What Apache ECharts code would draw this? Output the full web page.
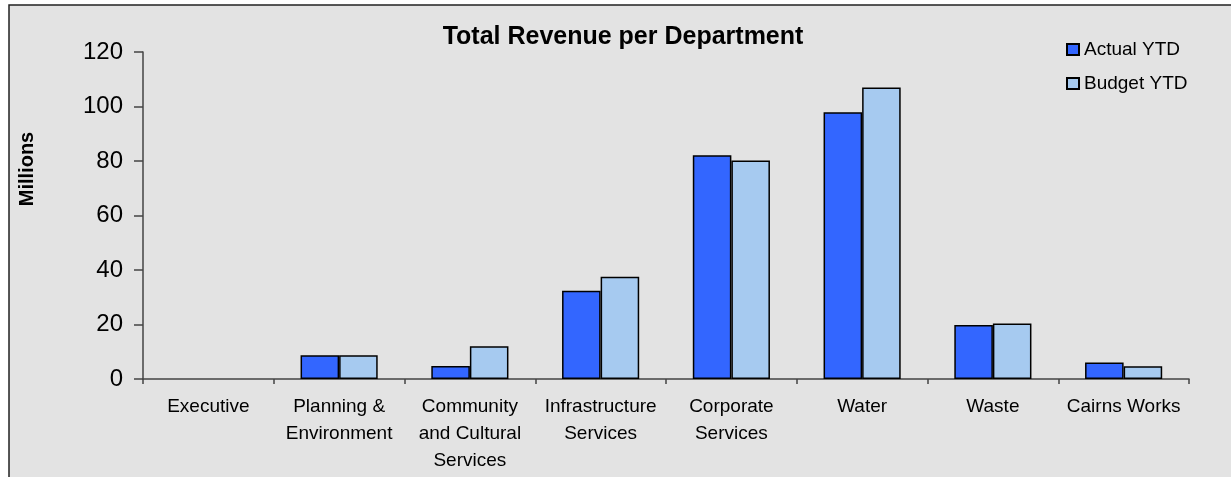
<!DOCTYPE html>
<html>
<head>
<meta charset="utf-8">
<script src="https://cdn.jsdelivr.net/npm/echarts@6/dist/echarts.min.js"></script>
<style>
  html, body { margin: 0; padding: 0; background: #ffffff; }
  #chart { width: 1231px; height: 477px; }
</style>
</head>
<body>
<div id="chart"></div>
<script>
// Departments along the x axis
const departments = [
  'Executive',
  'Planning &\nEnvironment',
  'Community\nand Cultural\nServices',
  'Infrastructure\nServices',
  'Corporate\nServices',
  'Water',
  'Waste',
  'Cairns Works'
];

// Revenue in millions
const actualYTD = [0, 8.7, 4.8, 32.4, 82.1, 97.9, 19.8, 6.1];
const budgetYTD = [0, 8.7, 12.0, 37.5, 80.2, 107.0, 20.4, 4.7];

const seriesNames = ['Actual YTD', 'Budget YTD'];
const yTicks = { min: 0, max: 120, interval: 20 };

const FONT = '"Liberation Sans", Arial, sans-serif';

// Zero-valued bars get no outline so they don't leave a stub on the axis
function barData(values) {
  return values.map(v => v === 0 ? { value: v, itemStyle: { borderWidth: 0 } } : v);
}

const chart = echarts.init(document.getElementById('chart'), null, { renderer: 'canvas' });

chart.setOption({
  animation: false,
  backgroundColor: '#ffffff',
  graphic: [
    {
      type: 'rect',
      z: -10,
      shape: { x: 9, y: 5, width: 1240, height: 490 },
      style: { fill: '#e3e3e3', stroke: '#222222', lineWidth: 1.5 }
    },
    {
      type: 'text',
      x: 27,
      y: 169,
      rotation: Math.PI / 2,
      style: {
        text: 'Millions',
        font: 'bold 20px ' + FONT,
        fill: '#000000',
        align: 'center',
        verticalAlign: 'middle'
      }
    }
  ],
  title: {
    text: 'Total Revenue per Department',
    left: 623,
    textAlign: 'center',
    top: 25,
    padding: 0,
    textStyle: { fontFamily: FONT, fontSize: 25, fontWeight: 'bold', color: '#000000' }
  },
  legend: {
    orient: 'vertical',
    left: 1066,
    top: 40,
    padding: 0,
    itemWidth: 12,
    itemHeight: 11,
    itemGap: 15,
    icon: 'rect',
    data: seriesNames,
    textStyle: { fontFamily: FONT, fontSize: 19, color: '#000000' }
  },
  grid: { left: 143, right: 42, top: 52, bottom: 98, containLabel: false },
  xAxis: {
    type: 'category',
    data: departments,
    axisLine: { show: true, lineStyle: { color: '#444444', width: 1.5 } },
    axisTick: { show: true, length: 5, lineStyle: { color: '#444444', width: 1.5 } },
    axisLabel: {
      interval: 0,
      margin: 14,
      fontFamily: FONT,
      fontSize: 19,
      lineHeight: 27,
      color: '#000000'
    },
    splitLine: { show: false }
  },
  yAxis: {
    type: 'value',
    min: yTicks.min,
    max: yTicks.max,
    interval: yTicks.interval,
    axisLine: { show: true, lineStyle: { color: '#444444', width: 1.5 } },
    axisTick: { show: true, length: 9, lineStyle: { color: '#444444', width: 1.5 } },
    axisLabel: { margin: 20, fontFamily: FONT, fontSize: 24, color: '#000000' },
    splitLine: { show: false }
  },
  series: [
    {
      name: seriesNames[0],
      type: 'bar',
      data: barData(actualYTD),
      barGap: '0%',
      barCategoryGap: '41%',
      itemStyle: { color: '#3366ff', borderColor: '#000000', borderWidth: 1.5 }
    },
    {
      name: seriesNames[1],
      type: 'bar',
      data: barData(budgetYTD),
      itemStyle: { color: '#a6caf0', borderColor: '#000000', borderWidth: 1.5 }
    }
  ]
});
</script>
</body>
</html>
